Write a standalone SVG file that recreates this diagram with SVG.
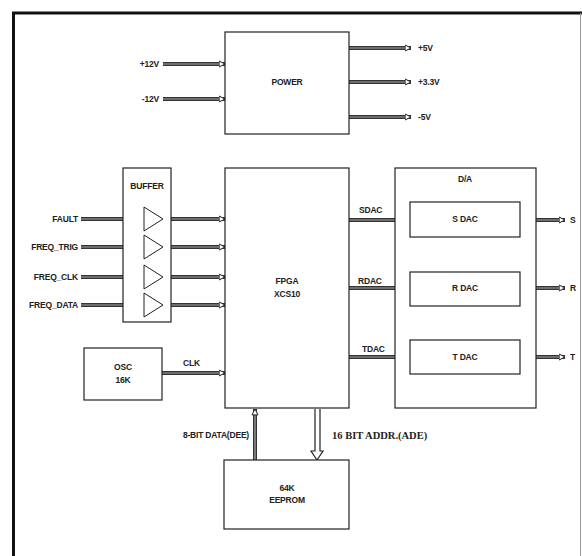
<svg xmlns="http://www.w3.org/2000/svg" width="582" height="556" viewBox="0 0 582 556">
<style>
.box{fill:#fff;stroke:#222;stroke-width:1.2}
.tri{fill:#fff;stroke:#222;stroke-width:1}
.bus{fill:none;stroke:#333;stroke-width:4}
.busi{fill:none;stroke:#aaa;stroke-width:1.2;marker-end:url(#ah)}
.t{font-family:"Liberation Sans",Arial,sans-serif;font-size:8.5px;font-weight:bold;fill:#222;letter-spacing:-0.2px}
.c{text-anchor:middle}
.e{text-anchor:end}
.serif{font-family:"Liberation Serif","Times New Roman",serif;font-size:10.5px;font-weight:bold;fill:#222}
</style>
<defs>
<marker id="ah" markerUnits="userSpaceOnUse" viewBox="0 0 7 8" refX="6.5" refY="4" markerWidth="7" markerHeight="8" orient="auto">
<path d="M0.6,1 L6.5,4 L0.6,7 Z" fill="#fff" stroke="#222" stroke-width="1"/>
</marker>
</defs>
<rect x="0" y="0" width="582" height="556" fill="#fff"/>
<g id="frame" fill="none">
<line x1="12" y1="13" x2="582" y2="13" stroke="#111" stroke-width="3"/>
<line x1="13.5" y1="12" x2="13.5" y2="556" stroke="#111" stroke-width="3"/>
<line x1="580.5" y1="13" x2="580.5" y2="556" stroke="#999" stroke-width="1"/>
</g>
<g id="connectors">
<path class="bus" d="M163,64 H225"/><path class="busi" d="M163,64 H225"/>
<path class="bus" d="M163,99 H225"/><path class="busi" d="M163,99 H225"/>
<path class="bus" d="M349,48 H411"/><path class="busi" d="M349,48 H411"/>
<path class="bus" d="M349,82 H411"/><path class="busi" d="M349,82 H411"/>
<path class="bus" d="M349,117 H411"/><path class="busi" d="M349,117 H411"/>
<path class="bus" d="M81,219 H144"/><path class="busi" d="M81,219 H144"/>
<path class="bus" d="M81,247 H144"/><path class="busi" d="M81,247 H144"/>
<path class="bus" d="M81,277 H144"/><path class="busi" d="M81,277 H144"/>
<path class="bus" d="M81,305 H144"/><path class="busi" d="M81,305 H144"/>
<path class="bus" d="M163,219 H225"/><path class="busi" d="M163,219 H225"/>
<path class="bus" d="M163,247 H225"/><path class="busi" d="M163,247 H225"/>
<path class="bus" d="M163,277 H225"/><path class="busi" d="M163,277 H225"/>
<path class="bus" d="M163,305 H225"/><path class="busi" d="M163,305 H225"/>
<path class="bus" d="M162,373 H225"/><path class="busi" d="M162,373 H225"/>
<path class="bus" d="M349,220 H410"/><path class="busi" d="M349,220 H410"/>
<path class="bus" d="M349,288 H410"/><path class="busi" d="M349,288 H410"/>
<path class="bus" d="M349,357 H410"/><path class="busi" d="M349,357 H410"/>
<path class="bus" d="M520,220 H565"/><path class="busi" d="M520,220 H565"/>
<path class="bus" d="M520,288 H565"/><path class="busi" d="M520,288 H565"/>
<path class="bus" d="M520,357 H565"/><path class="busi" d="M520,357 H565"/>
<path class="bus" d="M255,460 V409"/><path class="busi" d="M255,460 V409"/>
<path d="M315,409 V451 H311 L317,460 L323,451 H320 V409" fill="#fff" stroke="#222" stroke-width="1.2"/>
<text class="t e" x="159" y="67">+12V</text>
<text class="t e" x="159" y="102">-12V</text>
<text class="t" x="418" y="51">+5V</text>
<text class="t" x="418" y="85">+3.3V</text>
<text class="t" x="418" y="120">-5V</text>
<text class="t e" x="78" y="222">FAULT</text>
<text class="t e" x="78" y="250">FREQ_TRIG</text>
<text class="t e" x="78" y="280">FREQ_CLK</text>
<text class="t e" x="78" y="308">FREQ_DATA</text>
<text class="t" x="183" y="366">CLK</text>
<text class="t" x="359" y="213">SDAC</text>
<text class="t" x="358" y="284">RDAC</text>
<text class="t" x="362" y="352">TDAC</text>
<text class="t" x="570" y="223">S</text>
<text class="t" x="570" y="291">R</text>
<text class="t" x="570" y="360">T</text>
<text class="t e" x="249" y="438">8-BIT DATA(DEE)</text>
<text class="serif" x="332" y="439">16 BIT ADDR.(ADE)</text>
</g>
<g id="power">
<rect class="box" x="225" y="32" width="124" height="102"/>
<text class="t c" x="287" y="85">POWER</text>
</g>
<g id="buffer">
<rect class="box" x="123" y="168" width="48" height="154"/>
<text class="t c" x="147" y="189">BUFFER</text>
<polygon class="tri" points="144,207 144,231 163,219"/>
<polygon class="tri" points="144,235 144,259 163,247"/>
<polygon class="tri" points="144,265 144,289 163,277"/>
<polygon class="tri" points="144,293 144,317 163,305"/>
</g>
<g id="fpga">
<rect class="box" x="225" y="168" width="124" height="240"/>
<text class="t c" x="287" y="284">FPGA</text>
<text class="t c" x="287" y="297">XCS10</text>
</g>
<g id="osc">
<rect class="box" x="84" y="348" width="78" height="52"/>
<text class="t c" x="123" y="370">OSC</text>
<text class="t c" x="123" y="383">16K</text>
</g>
<g id="da">
<rect class="box" x="395" y="168" width="141" height="240"/>
<text class="t c" x="465" y="182">D/A</text>
</g>
<g id="sdac">
<rect class="box" x="410" y="202" width="110" height="35"/>
<text class="t c" x="465" y="222">S DAC</text>
</g>
<g id="rdac">
<rect class="box" x="410" y="272" width="110" height="34"/>
<text class="t c" x="465" y="291">R DAC</text>
</g>
<g id="tdac">
<rect class="box" x="410" y="340" width="110" height="34"/>
<text class="t c" x="465" y="360">T DAC</text>
</g>
<g id="eeprom">
<rect class="box" x="224" y="460" width="125" height="69"/>
<text class="t c" x="287" y="491">64K</text>
<text class="t c" x="287" y="503">EEPROM</text>
</g>
</svg>
